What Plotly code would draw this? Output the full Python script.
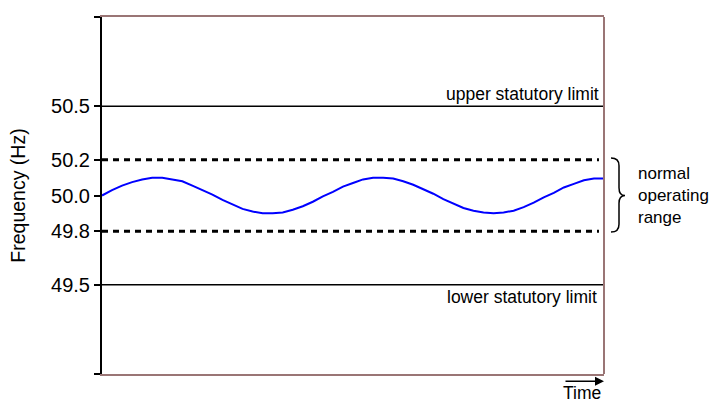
import plotly.graph_objects as go

# Time (arbitrary units) and frequency (Hz)
time = [0, 2, 4, 6, 8, 10, 12, 14, 16, 18, 20, 22, 24, 26, 28, 30, 32, 34, 36, 38,
        40, 42, 44, 46, 48, 50, 52, 54, 56, 58, 60, 62, 64, 66, 68, 70, 72, 74, 76, 78,
        80, 82, 84, 86, 88, 90, 92, 94, 96, 98, 100]
freq = [50.000, 50.030, 50.055, 50.075, 50.090, 50.100, 50.100, 50.090, 50.080, 50.055,
        50.030, 50.005, 49.975, 49.950, 49.925, 49.910, 49.900, 49.900, 49.905, 49.920,
        49.940, 49.965, 49.995, 50.020, 50.050, 50.070, 50.090, 50.100, 50.100, 50.095,
        50.080, 50.060, 50.035, 50.010, 49.980, 49.955, 49.930, 49.915, 49.905, 49.900,
        49.905, 49.915, 49.935, 49.960, 49.990, 50.015, 50.045, 50.065, 50.085, 50.095,
        50.095]

upper_limit = 50.5
lower_limit = 49.5
normal_high = 50.2
normal_low = 49.8
x_span = [0, 100]
dotted_span = [0, 99]

tick_vals = [49.0, 49.5, 49.8, 50.0, 50.2, 50.5, 51.0]
tick_text = ["", "49.5", "49.8", "50.0", "50.2", "50.5", ""]

FONT = "Arial, Liberation Sans, sans-serif"
BROWN = "#9a7575"

fig = go.Figure()
for v in (upper_limit, lower_limit):
    fig.add_trace(go.Scatter(x=x_span, y=[v, v], mode="lines",
                             line=dict(color="black", width=1.5), hoverinfo="skip"))
for v in (normal_high, normal_low):
    fig.add_trace(go.Scatter(x=dotted_span, y=[v, v], mode="lines",
                             line=dict(color="black", width=3, dash="6px,5px"), hoverinfo="skip"))
fig.add_trace(go.Scatter(x=time, y=freq, mode="lines",
                         line=dict(color="#0000ff", width=2)))

fig.update_layout(
    width=712, height=403,
    margin=dict(l=102, r=108, t=17, b=29),
    paper_bgcolor="white", plot_bgcolor="white",
    showlegend=False,
    font=dict(family=FONT, color="black"),
    xaxis=dict(range=x_span, showgrid=False, zeroline=False, showticklabels=False,
               ticks="", showline=True, mirror=True, linecolor=BROWN, linewidth=2),
    yaxis=dict(range=[49.0, 51.0], showgrid=False, zeroline=False,
               tickmode="array", tickvals=tick_vals, ticktext=tick_text,
               ticks="outside", ticklen=6, tickwidth=1.5, tickcolor="black",
               showline=True, linecolor="black", linewidth=2,
               tickfont=dict(size=20, family=FONT),
               title=dict(text="Frequency (Hz)", font=dict(size=19.5, family=FONT), standoff=20)),
)

# right border
fig.add_shape(type="line", xref="paper", yref="paper", x0=1, x1=1, y0=0, y1=1,
              line=dict(color=BROWN, width=2))

# brace for normal operating range
def px(x):
    return (x - 102) / 502.0

brace = (f"M {px(611)},50.21 Q {px(619)},50.21 {px(619)},50.167 "
         f"L {px(619)},50.044 Q {px(619)},50.0 {px(625)},50.0 "
         f"Q {px(619)},50.0 {px(619)},49.956 L {px(619)},49.839 "
         f"Q {px(619)},49.795 {px(611)},49.795")
fig.add_shape(type="path", xref="paper", yref="y", path=brace,
              line=dict(color="black", width=1.5))

fig.add_annotation(x=px(601), y=upper_limit, xref="paper", yref="y", text="upper statutory limit",
                   showarrow=False, xanchor="right", yanchor="bottom",
                   font=dict(size=17.5, family=FONT))
fig.add_annotation(x=px(599), y=lower_limit, xref="paper", yref="y", text="lower statutory limit",
                   showarrow=False, xanchor="right", yanchor="top",
                   font=dict(size=17.5, family=FONT))
fig.add_annotation(x=px(636), y=50.0, xref="paper", yref="y",
                   text="normal<br>operating<br>range", showarrow=False,
                   xanchor="left", yanchor="middle", align="left",
                   font=dict(size=17, family=FONT))
# Time arrow + label
fig.add_annotation(x=1.0, y=-0.02, xref="paper", yref="paper", ax=-40, ay=0,
                   text="", showarrow=True, arrowhead=2, arrowsize=1.2, arrowwidth=1.5,
                   arrowcolor="black")
fig.add_annotation(x=px(582), y=-0.052, xref="paper", yref="paper", text="Time",
                   showarrow=False, xanchor="center", yanchor="middle",
                   font=dict(size=17.5, family=FONT))

fig.write_html("out.html", config={"displayModeBar": False},
               post_script="document.body.style.margin='0';document.body.style.overflow='hidden';")
